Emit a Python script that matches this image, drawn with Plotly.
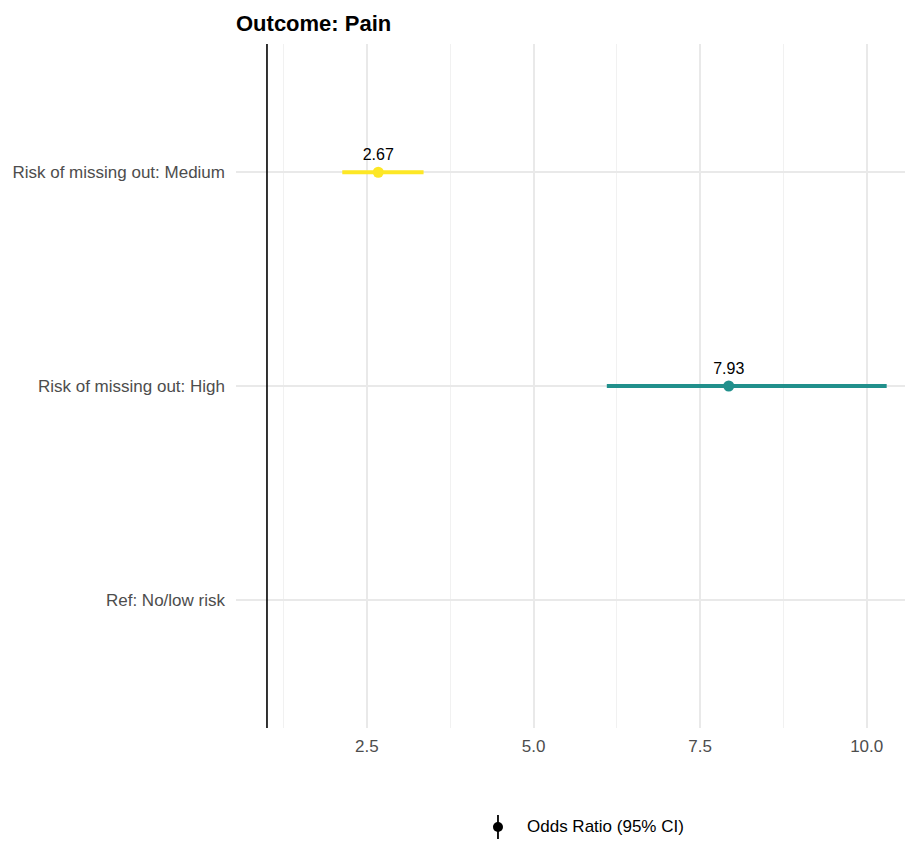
import plotly.graph_objects as go

# Forest plot data: odds ratios with 95% confidence intervals
categories = ["Ref: No/low risk", "Risk of missing out: High", "Risk of missing out: Medium"]
odds_ratio = [None, 7.93, 2.67]
ci_lower = [None, 6.10, 2.13]
ci_upper = [None, 10.30, 3.35]
row_colors = ["#000000", "#21908C", "#FDE725"]
x_ticks = [2.5, 5.0, 7.5, 10.0]

FONT = "Liberation Sans, Arial, sans-serif"

fig = go.Figure()

# one point-range per estimated row
for cat, est, lo, hi, col in zip(categories, odds_ratio, ci_lower, ci_upper, row_colors):
    if est is None:
        continue
    fig.add_trace(go.Scatter(
        x=[est], y=[cat],
        mode="markers+text",
        marker=dict(color=col, size=11, line=dict(width=0)),
        error_x=dict(type="data", symmetric=False,
                     array=[hi - est], arrayminus=[est - lo],
                     color=col, thickness=3.8, width=0),
        text=[f"{est:.2f}"], textposition="top center",
        textfont=dict(family=FONT, size=16, color="#000000"),
        showlegend=False, hoverinfo="skip", cliponaxis=False,
    ))

# keep the reference row on the axis
fig.add_trace(go.Scatter(x=[None], y=[categories[0]], mode="markers",
                         showlegend=False, hoverinfo="skip"))

# null-effect reference line at OR = 1
fig.add_vline(x=1, line=dict(color="#000000", width=1.6), layer="above")

# legend key: point-range glyph plus label
lx, ly = 0.3916, -0.1447
fig.add_shape(type="line", xref="paper", yref="paper",
              xsizemode="pixel", ysizemode="pixel", xanchor=lx, yanchor=ly,
              x0=0, x1=0, y0=-12, y1=12, line=dict(color="#000000", width=1.8))
fig.add_shape(type="circle", xref="paper", yref="paper",
              xsizemode="pixel", ysizemode="pixel", xanchor=lx, yanchor=ly,
              x0=-5, x1=5, y0=-5, y1=5, fillcolor="#000000", line=dict(width=0))
fig.add_annotation(x=0.432, y=ly, xref="paper", yref="paper",
                   xanchor="left", yanchor="middle", showarrow=False,
                   text="Odds Ratio (95% CI)",
                   font=dict(family=FONT, size=17, color="#000000"))

fig.update_layout(
    width=910, height=841,
    margin=dict(l=236, r=5, t=44, b=113),
    paper_bgcolor="#ffffff", plot_bgcolor="#ffffff",
    title=dict(text="<b>Outcome: Pain</b>", x=236 / 910, xanchor="left",
               y=1 - 23 / 841, yanchor="middle", yref="container",
               font=dict(family=FONT, size=22, color="#000000")),
    xaxis=dict(range=[0.535, 10.575], tickvals=x_ticks, tickformat=".1f",
               showgrid=True, gridcolor="#e9e9e9", gridwidth=1.6,
               minor=dict(dtick=1.25, tick0=0, showgrid=True,
                          gridcolor="#f1f1f1", gridwidth=1.1),
               zeroline=False, showline=False, ticks="",
               ticklabelstandoff=6,
               tickfont=dict(family=FONT, size=17, color="#4d4d4d")),
    yaxis=dict(type="category", categoryorder="array", categoryarray=categories,
               range=[-0.6, 2.6], showgrid=True, gridcolor="#e9e9e9",
               gridwidth=1.6, zeroline=False, showline=False, ticks="",
               ticklabelstandoff=10,
               tickfont=dict(family=FONT, size=17, color="#4d4d4d")),
    showlegend=False,
)

fig.write_html("out.html")
